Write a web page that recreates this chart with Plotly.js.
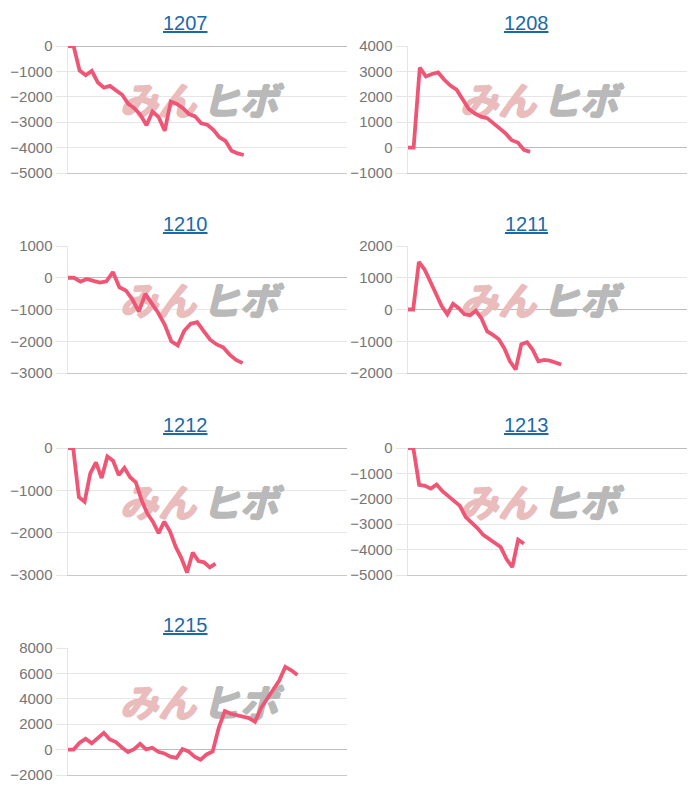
<!DOCTYPE html>
<html>
<head>
<meta charset="utf-8">
<script src="https://cdn.plot.ly/plotly-3.0.1.min.js"></script>
<style>
  html, body { margin: 0; padding: 0; background: #fff; }
  #chart { width: 700px; height: 800px; }
</style>
</head>
<body>
<div id="chart"></div>
<script>
var names = ["1207", "1208", "1210", "1211", "1212", "1213", "1215"];

var d1207 = [0, 0, -970, -1150, -980, -1440, -1640, -1570, -1750, -1920, -2280, -2450, -2710, -3120, -2580, -2800, -3340, -2190, -2280, -2450, -2680, -2770, -3040, -3100, -3300, -3590, -3740, -4120, -4230, -4290];
var d1208 = [0, 0, 3150, 2800, 2900, 2960, 2670, 2440, 2280, 1890, 1520, 1340, 1220, 1160, 950, 740, 560, 290, 200, -90, -170];
var d1210 = [0, 0, -120, -40, -100, -150, -110, 180, -300, -400, -680, -1070, -510, -800, -1110, -1480, -2000, -2130, -1670, -1450, -1400, -1680, -1950, -2100, -2190, -2420, -2590, -2690];
var d1211 = [0, 0, 1500, 1260, 880, 490, 110, -150, 180, 40, -150, -180, -40, -280, -690, -800, -930, -1220, -1630, -1890, -1090, -1030, -1270, -1630, -1590, -1610, -1670, -1730];
var d1212 = [0, 0, -1160, -1270, -600, -340, -710, -200, -300, -640, -470, -690, -810, -1230, -1540, -1740, -2010, -1740, -1970, -2330, -2600, -2940, -2470, -2670, -2700, -2820, -2730];
var d1213 = [0, 0, -1450, -1490, -1600, -1440, -1700, -1900, -2060, -2280, -2720, -2930, -3150, -3420, -3590, -3740, -3900, -4370, -4690, -3610, -3770];
var d1215 = [0, 0, 540, 850, 490, 900, 1320, 800, 590, 170, -190, 40, 460, 20, 150, -170, -300, -560, -660, 40, -140, -560, -800, -380, -140, 1720, 3030, 2820, 2710, 2630, 2480, 2190, 3290, 4000, 4670, 5430, 6510, 6250, 5880];

var series = [d1207, d1208, d1210, d1211, d1212, d1213, d1215];

// y ranges and tick steps of each panel
var yMin = [-5000, -1000, -3000, -2000, -3000, -5000, -2000];
var yMax = [0, 4000, 1000, 2000, 0, 0, 8000];
var yStep = [1000, 1000, 1000, 1000, 1000, 1000, 2000];
// number of x slots, differs from panel to panel
var slots = [46, 45.6, 43.1, 49.1, 49.1, 48, 46.2];

var W = 700, H = 800;
var colLeft = [67.5, 407.5];
var colTitle = [185.5, 526];
var plotW = 279.5;
var rowTop = [46, 246, 448, 648];
var plotH = 127;
var rowTitle = [23, 224, 425, 625];

var lineColor = "#ef5675";
var data = [];
var layout = {
    width: W,
    height: H,
    margin: { l: 0, r: 0, t: 0, b: 0 },
    paper_bgcolor: "#fff",
    plot_bgcolor: "rgba(0,0,0,0)",
    showlegend: false,
    font: { family: "Liberation Sans, Arial, sans-serif", color: "#666" },
    annotations: []
};

function fatten(c) {
    return "1px 0 0 " + c + ", -1px 0 0 " + c + ", 0 1px 0 " + c + ", 0 -1px 0 " + c;
}

names.forEach(function (name, i) {
    var col = i % 2, row = Math.floor(i / 2);
    var suffix = i === 0 ? "" : String(i + 1);
    var top = rowTop[row];

    // watermark sits under the line, so it goes in as a text trace first
    var wmLeft = col === 0 ? 120 : 460;
    var wmX = [wmLeft, wmLeft + 82].map(function (px) {
        return (px - colLeft[col]) / plotW * slots[i];
    });
    var wmY = yMax[i] - 59 / plotH * (yMax[i] - yMin[i]);
    [["みん", "#eabcbc"], ["ヒボ", "#b9b9b9"]].forEach(function (wm, k) {
        data.push({
            x: [wmX[k]],
            y: [wmY],
            type: "scatter",
            mode: "text",
            text: ["<b><i>" + wm[0] + "</i></b>"],
            textposition: "middle right",
            textfont: { size: 38, color: wm[1], family: "Noto Sans CJK JP", shadow: fatten(wm[1]) },
            cliponaxis: false,
            hoverinfo: "skip",
            xaxis: "x" + suffix,
            yaxis: "y" + suffix
        });
    });

    data.push({
        x: series[i].map(function (v, k) { return k; }),
        y: series[i],
        type: "scatter",
        mode: "lines",
        line: { color: lineColor, width: 3.8 },
        hoverinfo: "skip",
        xaxis: "x" + suffix,
        yaxis: "y" + suffix
    });

    layout["xaxis" + suffix] = {
        domain: [colLeft[col] / W, (colLeft[col] + plotW) / W],
        range: [0, slots[i]],
        anchor: "y" + suffix,
        showgrid: false,
        zeroline: false,
        showticklabels: false,
        ticks: "",
        showline: true,
        linecolor: "#c9c9c9",
        linewidth: 1
    };
    layout["yaxis" + suffix] = {
        domain: [1 - (top + plotH) / H, 1 - top / H],
        range: [yMin[i], yMax[i]],
        anchor: "x" + suffix,
        tick0: 0,
        dtick: yStep[i],
        tickformat: "d",
        gridcolor: "#e6e6e6",
        gridwidth: 1,
        zeroline: true,
        zerolinecolor: "#bcbcbc",
        zerolinewidth: 1,
        showline: true,
        linecolor: "#e6e6e6",
        linewidth: 1,
        ticks: "outside",
        ticklen: 11,
        tickcolor: "#e6e6e6",
        ticklabelstandoff: 0,
        tickfont: { size: 15, color: "#757575" }
    };

    // panel title, looks like a link in the original
    layout.annotations.push({
        text: "<u>" + name + "</u>",
        xref: "paper", yref: "paper",
        x: colTitle[col] / W,
        y: 1 - rowTitle[row] / H,
        xanchor: "center", yanchor: "middle",
        showarrow: false,
        font: { size: 20, color: "#1a6aa8", family: "Liberation Sans, Arial, sans-serif" }
    });
});

Plotly.newPlot("chart", data, layout, { displayModeBar: false, staticPlot: true });
</script>
</body>
</html>
